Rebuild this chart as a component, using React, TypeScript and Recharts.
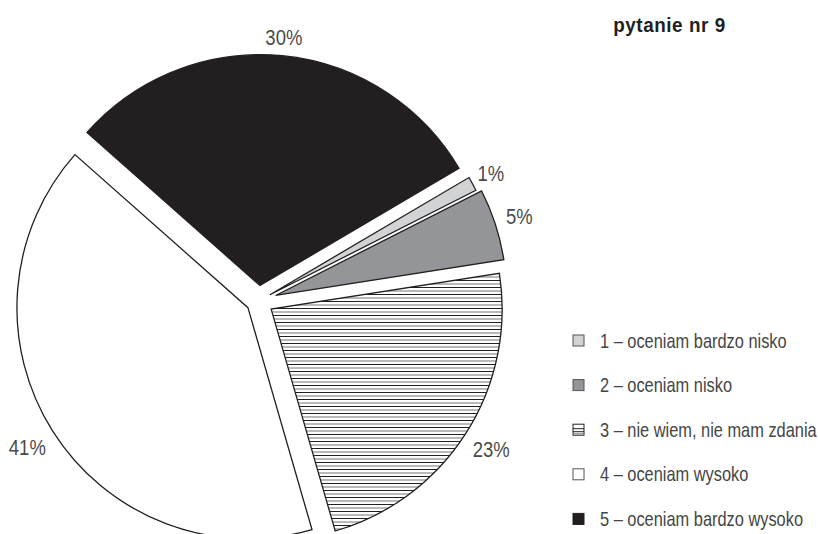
import { Cell, Pie, PieChart } from "recharts";

const answers = [
  "1 – oceniam bardzo nisko",
  "2 – oceniam nisko",
  "3 – nie wiem, nie mam zdania",
  "4 – oceniam wysoko",
  "5 – oceniam bardzo wysoko",
];
const shares = [1, 5, 23, 41, 30];
const title = "pytanie nr 9";

const rows = answers.map((name, i) => ({ name, value: shares[i] }));

const INK = "#231f20";
const FILLS = ["#d1d3d4", "#939598", "url(#stripes)", "#ffffff", INK];
const EXPLODE = [13, 18, 15, 12.5, 15.5];
const LABEL_GAP = [21, 25, 30, 30, 18];
const CX = 258.5;
const CY = 301;
const R = 231;
const START = 30.5;
const RADIAN = Math.PI / 180;
const FONT = "'Liberation Sans', Arial, sans-serif";

const total = shares.reduce((a, b) => a + b, 0);

// middle of slice i, same direction recharts uses (clockwise from START)
function midAngle(i: number) {
  const before = shares.slice(0, i).reduce((a, b) => a + b, 0);
  return START - (360 * (before + shares[i] / 2)) / total;
}

// no condensed face installed, so squeeze Liberation Sans sideways
function Narrow({ x, y, sx, anchor = "start", children, ...rest }: any) {
  return (
    <text
      transform={`translate(${x},${y}) scale(${sx},1)`}
      textAnchor={anchor}
      dominantBaseline="central"
      fontFamily={FONT}
      {...rest}
    >
      {children}
    </text>
  );
}

const makeLabel = (only: number) => (props: any) => {
  if (props.index !== only) return null;
  const r = props.outerRadius + LABEL_GAP[only];
  const x = props.cx + r * Math.cos(-props.midAngle * RADIAN);
  const y = props.cy + r * Math.sin(-props.midAngle * RADIAN);
  return (
    <Narrow x={x} y={y} sx={0.84} anchor="middle" fill="#4a4a4a" stroke="none" fontSize={22}>
      {`${shares[only]}%`}
    </Narrow>
  );
};

function LegendBox({ i, y }: { i: number; y: number }) {
  const x = 573;
  const s = 11;
  if (i === 2) {
    return (
      <g>
        <rect x={x} y={y - s / 2} width={s} height={s} fill="#fff" stroke={INK} />
        <line x1={x} x2={x + s} y1={y - 1} y2={y - 1} stroke={INK} />
        <line x1={x} x2={x + s} y1={y + 2} y2={y + 2} stroke={INK} />
        <line x1={x} x2={x + s} y1={y + 4} y2={y + 4} stroke="#888" />
      </g>
    );
  }
  return <rect x={x} y={y - s / 2} width={s} height={s} fill={FILLS[i]} stroke={i === 4 ? INK : "#555"} />;
}

export default function App() {
  return (
    <div style={{ position: "absolute", left: 0, top: 0, width: 818, height: 534, background: "#fff" }}>
      <PieChart width={818} height={534} margin={{ top: 0, right: 0, bottom: 0, left: 0 }}>
        <defs>
          <pattern id="stripes" patternUnits="userSpaceOnUse" width={8} height={7}>
            <rect width={8} height={7} fill="#fff" />
            <line x1={0} x2={8} y1={0.5} y2={0.5} stroke={INK} strokeWidth={1} />
            <line x1={0} x2={8} y1={4} y2={4} stroke="#8a8a8a" strokeWidth={1.2} />
          </pattern>
        </defs>
        {rows.map((_, k) => {
          const a = midAngle(k) * RADIAN;
          return (
            <Pie
              key={k}
              data={rows}
              dataKey="value"
              nameKey="name"
              cx={CX + EXPLODE[k] * Math.cos(a)}
              cy={CY - EXPLODE[k] * Math.sin(a)}
              outerRadius={R}
              startAngle={START}
              endAngle={START - 360}
              isAnimationActive={false}
              label={makeLabel(k)}
              labelLine={false}
            >
              {rows.map((row, j) => (
                <Cell
                  key={row.name}
                  fill={j === k ? FILLS[j] : "none"}
                  stroke={j === k ? INK : "none"}
                  strokeWidth={1.3}
                />
              ))}
            </Pie>
          );
        })}
        <Narrow x={669.5} y={25} sx={0.9} anchor="middle" fill={INK} fontWeight="bold" fontSize={21} letterSpacing={0.6}>
          {title}
        </Narrow>
        {answers.map((name, i) => {
          const y = 340.5 + i * 44.6;
          return (
            <g key={name}>
              <LegendBox i={i} y={y} />
              <Narrow x={600} y={y} sx={0.82} fill="#454545" fontSize={20}>
                {name}
              </Narrow>
            </g>
          );
        })}
      </PieChart>
    </div>
  );
}
